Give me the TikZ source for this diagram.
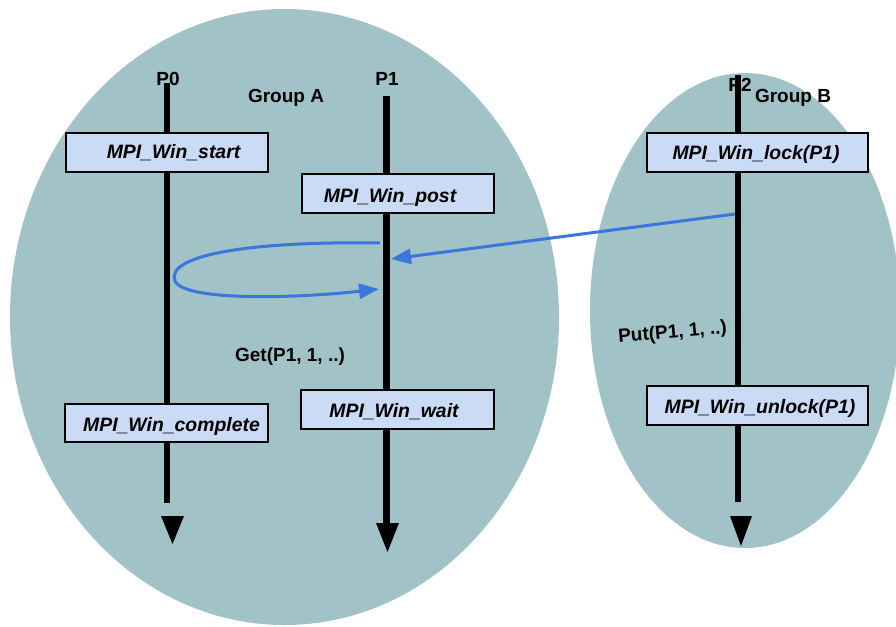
\documentclass[tikz,border=0pt]{standalone}
\usepackage{fontspec}
\setmainfont{Liberation Sans}
\usetikzlibrary{arrows.meta}
\definecolor{groupfill}{RGB}{161,194,198}
\definecolor{boxfill}{RGB}{201,219,245}
\definecolor{msgblue}{RGB}{58,118,220}
\tikzset{
  life/.style={line width=6pt, draw=black},
  lifehead/.style={fill=black},
  callbox/.style={draw=black, line width=1.5pt, fill=boxfill, inner sep=0pt},
  fn/.style={anchor=base, inner sep=0pt, font=\fontsize{19.4}{21}\selectfont\bfseries\itshape},
  tag/.style={anchor=base, inner sep=0pt, font=\fontsize{19}{21}\selectfont\bfseries},
  msg/.style={draw=msgblue, line width=3pt, -{Triangle[length=20pt,width=15pt]}},
}
\begin{document}
\begin{tikzpicture}[x=1pt,y=-1pt]
\clip (0,0) rectangle (896,626);
\fill[white] (0,0) rectangle (896,626);

% process groups
\fill[groupfill] (284.5,317) ellipse [x radius=274.5pt, y radius=308pt];
\fill[groupfill] (745,310.5) ellipse [x radius=155pt, y radius=237.5pt];

% lifelines
\coordinate (p0top) at (167,83);
\coordinate (p0bot) at (167,503);
\coordinate (p1top) at (386.5,96);
\coordinate (p1bot) at (386.5,524);
\coordinate (p2top) at (738,75);
\coordinate (p2bot) at (738,502);
\draw[life] (p0top) -- (p0bot);
\draw[life, line width=7.5pt] (p1top) -- (p1bot);
\draw[life] (p2top) -- (p2bot);
\fill[lifehead] (161,516) -- (184,516) -- (172.5,544) -- cycle;
\fill[lifehead] (376,523) -- (399,523) -- (387.5,552) -- cycle;
\fill[lifehead] (730,516) -- (752,516) -- (741,546) -- cycle;

% process and group names
\node[tag] (n0) at (168,85) {P0};
\node[tag] (n1) at (387,85) {P1};
\node[tag] (n2) at (740,91) {P2};
\node[tag] (ga) at (286,102) {Group A};
\node[tag] (gb) at (793,102) {Group B};

% synchronisation calls
\node[callbox, minimum width=202pt, minimum height=39pt] (bstart) at (167,152.5) {};
\node[fn] (tstart) at (173.5,158) {MPI\_Win\_start};
\node[callbox, minimum width=192pt, minimum height=39pt] (bpost) at (398,193.5) {};
\node[fn] (tpost) at (390,202) {MPI\_Win\_post};
\node[callbox, minimum width=203pt, minimum height=38pt] (bcomplete) at (166.5,423) {};
\node[fn] (tcomplete) at (171.5,431) {MPI\_Win\_complete};
\node[callbox, minimum width=193pt, minimum height=39pt] (bwait) at (397.5,409.5) {};
\node[fn] (twait) at (394,417) {MPI\_Win\_wait};
\node[callbox, minimum width=221pt, minimum height=39pt] (block) at (757.5,152.5) {};
\node[fn] (tlock) at (756,159) {MPI\_Win\_lock(P1)};
\node[callbox, minimum width=221pt, minimum height=39pt] (bunlock) at (757.5,405.5) {};
\node[fn] (tunlock) at (760,413) {MPI\_Win\_unlock(P1)};

% one-sided operations
\node[tag] (get) at (290,361) {Get(P1, 1, ..)};
\node[tag, rotate=5] (put) at (673,338) {Put(P1, 1, ..)};

% data movement
\coordinate (putfrom) at (735,214);
\coordinate (putto) at (391,259);
\draw[msg] (putfrom) -- (putto);
\coordinate (getfrom) at (380,243);
\coordinate (getto) at (379,289);
\draw[msg] (getfrom) .. controls (250,241) and (165,255) .. (175,281)
               .. controls (185,302) and (300,298) .. (getto);
\end{tikzpicture}
\end{document}
